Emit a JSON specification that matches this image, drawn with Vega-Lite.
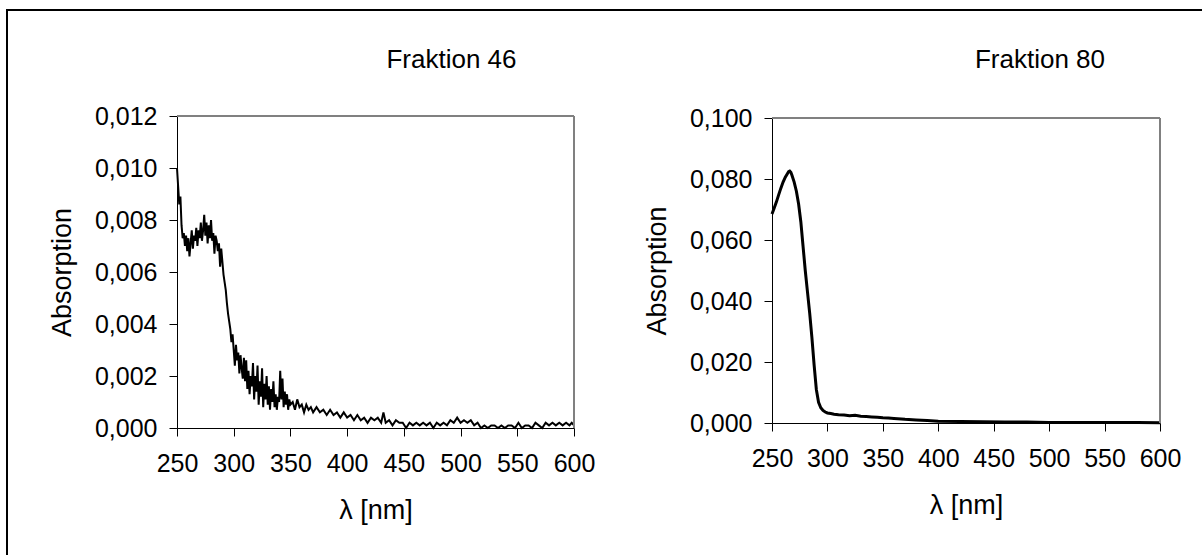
{
  "$schema": "https://vega.github.io/schema/vega-lite/v6.json",
  "width": 1205,
  "height": 555,
  "autosize": {"type": "none"},
  "padding": {"left": 7, "top": 10, "right": -10, "bottom": -10},
  "background": "white",
  "config": {
    "view": {"stroke": "black", "strokeWidth": 2, "fill": "white"},
    "font": "Liberation Sans",
    "axis": {
      "grid": false,
      "labelFont": "Liberation Sans",
      "titleFont": "Liberation Sans",
      "labelFontSize": 25,
      "titleFontSize": 27,
      "titleFontWeight": "normal",
      "labelColor": "black",
      "titleColor": "black",
      "domainColor": "black",
      "tickColor": "black",
      "domainWidth": 1,
      "tickWidth": 1,
      "tickSize": 8
    }
  },
  "datasets": {
    "f46": [
      {"wl": 250, "a": 0.0100}, {"wl": 251, "a": 0.0093}, {"wl": 252, "a": 0.0086}, {"wl": 253, "a": 0.0089},
      {"wl": 254, "a": 0.0078}, {"wl": 255, "a": 0.0073}, {"wl": 256, "a": 0.0075}, {"wl": 257, "a": 0.0070},
      {"wl": 258, "a": 0.0074}, {"wl": 259, "a": 0.0068}, {"wl": 260, "a": 0.0073}, {"wl": 261, "a": 0.0066},
      {"wl": 262, "a": 0.0071}, {"wl": 263, "a": 0.0076}, {"wl": 264, "a": 0.0069}, {"wl": 265, "a": 0.0074},
      {"wl": 266, "a": 0.0072}, {"wl": 267, "a": 0.0077}, {"wl": 268, "a": 0.0070}, {"wl": 269, "a": 0.0076},
      {"wl": 270, "a": 0.0073}, {"wl": 271, "a": 0.0079}, {"wl": 272, "a": 0.0072}, {"wl": 273, "a": 0.0076},
      {"wl": 274, "a": 0.0082}, {"wl": 275, "a": 0.0074}, {"wl": 276, "a": 0.0079}, {"wl": 277, "a": 0.0071},
      {"wl": 278, "a": 0.0078}, {"wl": 279, "a": 0.0073}, {"wl": 280, "a": 0.0080}, {"wl": 281, "a": 0.0072},
      {"wl": 282, "a": 0.0075}, {"wl": 283, "a": 0.0067}, {"wl": 284, "a": 0.0074}, {"wl": 285, "a": 0.0072},
      {"wl": 286, "a": 0.0068}, {"wl": 287, "a": 0.0071}, {"wl": 288, "a": 0.0062}, {"wl": 289, "a": 0.0069},
      {"wl": 290, "a": 0.0064}, {"wl": 291, "a": 0.0059}, {"wl": 292, "a": 0.0056}, {"wl": 293, "a": 0.0053},
      {"wl": 294, "a": 0.0048}, {"wl": 295, "a": 0.0044}, {"wl": 296, "a": 0.0041}, {"wl": 297, "a": 0.0038},
      {"wl": 298, "a": 0.0033}, {"wl": 299, "a": 0.0036}, {"wl": 300, "a": 0.0030}, {"wl": 301, "a": 0.0024},
      {"wl": 302, "a": 0.0032}, {"wl": 303, "a": 0.0026}, {"wl": 304, "a": 0.0029}, {"wl": 305, "a": 0.0021},
      {"wl": 306, "a": 0.0028}, {"wl": 307, "a": 0.0023}, {"wl": 308, "a": 0.0019}, {"wl": 309, "a": 0.0027},
      {"wl": 310, "a": 0.0018}, {"wl": 311, "a": 0.0026}, {"wl": 312, "a": 0.0015}, {"wl": 313, "a": 0.0022},
      {"wl": 314, "a": 0.0013}, {"wl": 315, "a": 0.0020}, {"wl": 316, "a": 0.0016}, {"wl": 317, "a": 0.0025},
      {"wl": 318, "a": 0.0011}, {"wl": 319, "a": 0.0020}, {"wl": 320, "a": 0.0014}, {"wl": 321, "a": 0.0024},
      {"wl": 322, "a": 0.0009}, {"wl": 323, "a": 0.0018}, {"wl": 324, "a": 0.0012}, {"wl": 325, "a": 0.0023},
      {"wl": 326, "a": 0.0008}, {"wl": 327, "a": 0.0017}, {"wl": 328, "a": 0.0011}, {"wl": 329, "a": 0.0020},
      {"wl": 330, "a": 0.0009}, {"wl": 331, "a": 0.0016}, {"wl": 332, "a": 0.0007}, {"wl": 333, "a": 0.0015},
      {"wl": 334, "a": 0.0010}, {"wl": 335, "a": 0.0018}, {"wl": 336, "a": 0.0008}, {"wl": 337, "a": 0.0013},
      {"wl": 338, "a": 0.0007}, {"wl": 339, "a": 0.0012}, {"wl": 340, "a": 0.0010}, {"wl": 341, "a": 0.0022},
      {"wl": 342, "a": 0.0011}, {"wl": 343, "a": 0.0019}, {"wl": 344, "a": 0.0008}, {"wl": 345, "a": 0.0014},
      {"wl": 346, "a": 0.0009}, {"wl": 347, "a": 0.0013}, {"wl": 348, "a": 0.0007}, {"wl": 349, "a": 0.0011},
      {"wl": 350, "a": 0.0009}, {"wl": 352, "a": 0.0010}, {"wl": 354, "a": 0.0007}, {"wl": 356, "a": 0.0011},
      {"wl": 358, "a": 0.0008}, {"wl": 360, "a": 0.0009}, {"wl": 362, "a": 0.0006}, {"wl": 364, "a": 0.0009},
      {"wl": 366, "a": 0.0007}, {"wl": 368, "a": 0.0008}, {"wl": 370, "a": 0.0006}, {"wl": 373, "a": 0.0008},
      {"wl": 376, "a": 0.0006}, {"wl": 379, "a": 0.0007}, {"wl": 382, "a": 0.0005}, {"wl": 385, "a": 0.0007},
      {"wl": 388, "a": 0.0005}, {"wl": 391, "a": 0.0006}, {"wl": 394, "a": 0.0004}, {"wl": 397, "a": 0.0006},
      {"wl": 400, "a": 0.0004}, {"wl": 403, "a": 0.0005}, {"wl": 406, "a": 0.0003}, {"wl": 409, "a": 0.0005},
      {"wl": 412, "a": 0.0003}, {"wl": 415, "a": 0.0004}, {"wl": 418, "a": 0.0002}, {"wl": 421, "a": 0.0004},
      {"wl": 424, "a": 0.0003}, {"wl": 427, "a": 0.0004}, {"wl": 430, "a": 0.0002}, {"wl": 432, "a": 0.0006},
      {"wl": 434, "a": 0.0002}, {"wl": 437, "a": 0.0003}, {"wl": 440, "a": 0.0001}, {"wl": 443, "a": 0.0003},
      {"wl": 446, "a": 0.0002}, {"wl": 449, "a": 0.0002}, {"wl": 452, "a": 0.0000}, {"wl": 455, "a": 0.0002},
      {"wl": 458, "a": 0.0001}, {"wl": 461, "a": 0.0002}, {"wl": 464, "a": 0.0001}, {"wl": 467, "a": 0.0002},
      {"wl": 470, "a": 0.0001}, {"wl": 473, "a": 0.0002}, {"wl": 476, "a": 0.0000}, {"wl": 479, "a": 0.0002},
      {"wl": 482, "a": 0.0001}, {"wl": 485, "a": 0.0002}, {"wl": 488, "a": 0.0001}, {"wl": 491, "a": 0.0003},
      {"wl": 494, "a": 0.0002}, {"wl": 497, "a": 0.0004}, {"wl": 500, "a": 0.0002}, {"wl": 503, "a": 0.0003},
      {"wl": 506, "a": 0.0002}, {"wl": 509, "a": 0.0003}, {"wl": 512, "a": 0.0001}, {"wl": 515, "a": 0.0002},
      {"wl": 518, "a": 0.0000}, {"wl": 521, "a": 0.0001}, {"wl": 524, "a": 0.0000}, {"wl": 527, "a": 0.0001},
      {"wl": 530, "a": 0.0001}, {"wl": 533, "a": 0.0000}, {"wl": 536, "a": 0.0001}, {"wl": 539, "a": 0.0000},
      {"wl": 542, "a": 0.0001}, {"wl": 545, "a": 0.0001}, {"wl": 548, "a": 0.0000}, {"wl": 551, "a": 0.0002},
      {"wl": 554, "a": 0.0000}, {"wl": 557, "a": 0.0001}, {"wl": 560, "a": 0.0001}, {"wl": 563, "a": 0.0000},
      {"wl": 566, "a": 0.0002}, {"wl": 569, "a": 0.0001}, {"wl": 572, "a": 0.0000}, {"wl": 575, "a": 0.0002},
      {"wl": 578, "a": 0.0001}, {"wl": 581, "a": 0.0002}, {"wl": 584, "a": 0.0001}, {"wl": 587, "a": 0.0002},
      {"wl": 590, "a": 0.0001}, {"wl": 593, "a": 0.0002}, {"wl": 596, "a": 0.0001}, {"wl": 598, "a": 0.0002},
      {"wl": 600, "a": 0.0001}
    ],
    "f80": [
      {"wl": 250, "a": 0.0685}, {"wl": 252, "a": 0.0705}, {"wl": 254, "a": 0.0725}, {"wl": 256, "a": 0.0748},
      {"wl": 258, "a": 0.0770}, {"wl": 260, "a": 0.0790}, {"wl": 262, "a": 0.0806}, {"wl": 264, "a": 0.0818},
      {"wl": 265, "a": 0.0824}, {"wl": 266, "a": 0.0826}, {"wl": 267, "a": 0.0822}, {"wl": 268, "a": 0.0812},
      {"wl": 270, "a": 0.0790}, {"wl": 272, "a": 0.0760}, {"wl": 274, "a": 0.0718}, {"wl": 276, "a": 0.0660},
      {"wl": 278, "a": 0.0580}, {"wl": 280, "a": 0.0500}, {"wl": 282, "a": 0.0430}, {"wl": 284, "a": 0.0360},
      {"wl": 286, "a": 0.0280}, {"wl": 288, "a": 0.0190}, {"wl": 290, "a": 0.0110}, {"wl": 292, "a": 0.0068},
      {"wl": 294, "a": 0.0050}, {"wl": 296, "a": 0.0041}, {"wl": 298, "a": 0.0036}, {"wl": 300, "a": 0.0033},
      {"wl": 303, "a": 0.0031}, {"wl": 306, "a": 0.0029}, {"wl": 310, "a": 0.0027}, {"wl": 315, "a": 0.0026},
      {"wl": 320, "a": 0.0024}, {"wl": 325, "a": 0.0025}, {"wl": 330, "a": 0.0022}, {"wl": 335, "a": 0.0021},
      {"wl": 340, "a": 0.0020}, {"wl": 345, "a": 0.0019}, {"wl": 350, "a": 0.0017}, {"wl": 355, "a": 0.0016},
      {"wl": 360, "a": 0.0015}, {"wl": 370, "a": 0.0012}, {"wl": 380, "a": 0.0010}, {"wl": 390, "a": 0.0008},
      {"wl": 400, "a": 0.0006}, {"wl": 420, "a": 0.0005}, {"wl": 440, "a": 0.0004}, {"wl": 460, "a": 0.0003},
      {"wl": 480, "a": 0.0003}, {"wl": 500, "a": 0.0002}, {"wl": 520, "a": 0.0002}, {"wl": 540, "a": 0.0002},
      {"wl": 560, "a": 0.0002}, {"wl": 580, "a": 0.0002}, {"wl": 600, "a": 0.0001}
    ],
    "titles": [
      {"panel": "f46", "label": "Fraktion 46"},
      {"panel": "f80", "label": "Fraktion 80"}
    ]
  },
  "resolve": {
    "scale": {"x": "independent", "y": "independent"},
    "axis": {"x": "independent", "y": "independent"}
  },
  "layer": [
    {
      "layer": [
        {
          "data": {"name": "f46"},
          "mark": {"type": "line", "color": "black", "strokeWidth": 2, "interpolate": "linear"},
          "encoding": {
            "x": {
              "field": "wl", "type": "quantitative",
              "scale": {"domain": [250, 600], "range": [170, 567], "nice": false, "zero": false},
              "axis": {"orient": "bottom", "offset": -137, "values": [250, 300, 350, 400, 450, 500, 550, 600],
                       "labelPadding": 15, "title": "λ [nm]", "titlePadding": 21, "labelFlush": false, "labelOverlap": false}
            },
            "y": {
              "field": "a", "type": "quantitative",
              "scale": {"domain": [0, 0.012], "range": [418, 106], "nice": false, "zero": false},
              "axis": {"orient": "left", "offset": -170, "values": [0, 0.002, 0.004, 0.006, 0.008, 0.01, 0.012],
                       "labelExpr": "replace(format(datum.value, '.3f'), '.', ',')",
                       "labelPadding": 12, "title": "Absorption", "titlePadding": 18, "labelFlush": false, "labelOverlap": false}
            }
          }
        },
        {
          "data": {"name": "f46"},
          "mark": {"type": "rule", "color": "#808080", "strokeWidth": 1.5},
          "encoding": {"x": {"datum": 250}, "x2": {"datum": 600}, "y": {"datum": 0.012}}
        },
        {
          "data": {"name": "f46"},
          "mark": {"type": "rule", "color": "#808080", "strokeWidth": 1.5},
          "encoding": {"x": {"datum": 600}, "y": {"datum": 0}, "y2": {"datum": 0.012}}
        },
        {
          "data": {"name": "titles"},
          "transform": [{"filter": "datum.panel == 'f46'"}],
          "mark": {"type": "text", "font": "Liberation Sans", "fontSize": 26, "color": "black",
                   "align": "center", "baseline": "middle", "dx": 76, "dy": -56},
          "encoding": {"x": {"datum": 425}, "y": {"datum": 0.012}, "text": {"field": "label"}}
        }
      ]
    },
    {
      "layer": [
        {
          "data": {"name": "f80"},
          "mark": {"type": "line", "color": "black", "strokeWidth": 3, "interpolate": "linear"},
          "encoding": {
            "x": {
              "field": "wl", "type": "quantitative",
              "scale": {"domain": [250, 600], "range": [765, 1153], "nice": false, "zero": false},
              "axis": {"orient": "bottom", "offset": -142, "values": [250, 300, 350, 400, 450, 500, 550, 600],
                       "labelPadding": 15, "title": "λ [nm]", "titlePadding": 21, "labelFlush": false, "labelOverlap": false}
            },
            "y": {
              "field": "a", "type": "quantitative",
              "scale": {"domain": [0, 0.1], "range": [413, 108], "nice": false, "zero": false},
              "axis": {"orient": "left", "offset": -765, "values": [0, 0.02, 0.04, 0.06, 0.08, 0.1],
                       "labelExpr": "replace(format(datum.value, '.3f'), '.', ',')",
                       "labelPadding": 12, "title": "Absorption", "titlePadding": 18, "labelFlush": false, "labelOverlap": false}
            }
          }
        },
        {
          "data": {"name": "f80"},
          "mark": {"type": "rule", "color": "#808080", "strokeWidth": 1.5},
          "encoding": {"x": {"datum": 250}, "x2": {"datum": 600}, "y": {"datum": 0.1}}
        },
        {
          "data": {"name": "f80"},
          "mark": {"type": "rule", "color": "#808080", "strokeWidth": 1.5},
          "encoding": {"x": {"datum": 600}, "y": {"datum": 0}, "y2": {"datum": 0.1}}
        },
        {
          "data": {"name": "titles"},
          "transform": [{"filter": "datum.panel == 'f80'"}],
          "mark": {"type": "text", "font": "Liberation Sans", "fontSize": 26, "color": "black",
                   "align": "center", "baseline": "middle", "dx": 74, "dy": -58},
          "encoding": {"x": {"datum": 425}, "y": {"datum": 0.1}, "text": {"field": "label"}}
        }
      ]
    }
  ]
}
